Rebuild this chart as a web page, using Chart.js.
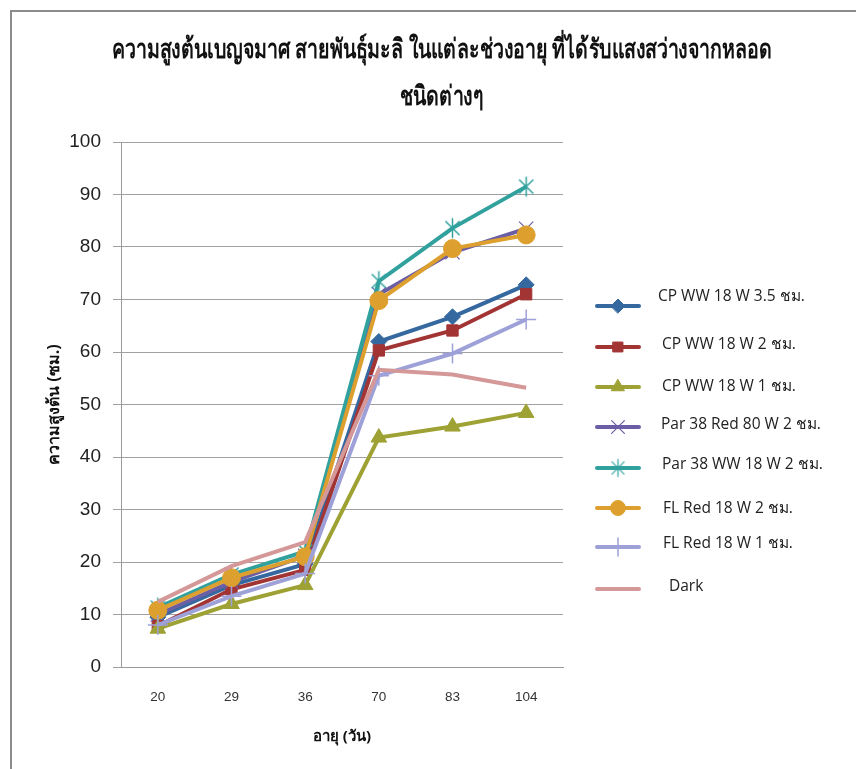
<!DOCTYPE html>
<html>
<head>
<meta charset="utf-8">
<script src="https://cdn.jsdelivr.net/npm/chart.js@4/dist/chart.umd.min.js"></script>
<style>
  html, body { margin: 0; padding: 0; background: #fff; }
  #wrap { position: relative; width: 856px; height: 769px; overflow: hidden; }
  #frame { position: absolute; left: 10px; top: 10px; width: 900px; height: 800px;
           border-top: 2px solid #8c8c8c; border-left: 2px solid #8c8c8c; }
  #c { position: absolute; left: 0; top: 0; }
</style>
</head>
<body>
<div id="wrap">
  <div id="frame"></div>
  <canvas id="c" width="856" height="769"></canvas>
</div>
<script>
// Plant age (days) on the x axis
const ageDays = ['20', '29', '36', '70', '83', '104'];
const yTicks = [0, 10, 20, 30, 40, 50, 60, 70, 80, 90, 100];

// Plant height (cm) for each lamp treatment
const cpWw35h = [9.5, 15.6, 19.6, 62.0, 66.7, 72.8];
const cpWw2h = [7.8, 14.8, 18.5, 60.3, 64.1, 71.0];
const cpWw1h = [7.3, 12.0, 15.6, 43.7, 45.8, 48.4];
const par38Red2h = [10.0, 16.2, 21.2, 71.0, 79.0, 83.5];
const par38Ww2h = [11.3, 17.6, 22.0, 73.5, 83.6, 91.5];
const flRed2h = [10.8, 17.0, 21.0, 69.8, 79.7, 82.3];
const flRed1h = [8.0, 13.5, 17.8, 55.5, 59.7, 66.2];
const darkH = [12.4, 19.2, 23.8, 56.6, 55.7, 53.2];

const seriesNames = [
  'CP WW 18 W 3.5 ชม.',
  'CP WW 18 W 2 ชม.',
  'CP WW 18 W 1 ชม.',
  'Par 38 Red 80 W 2 ชม.',
  'Par 38 WW 18 W 2 ชม.',
  'FL Red 18 W 2 ชม.',
  'FL Red 18 W 1 ชม.',
  'Dark'
];
const seriesValues = [cpWw35h, cpWw2h, cpWw1h, par38Red2h, par38Ww2h, flRed2h, flRed1h, darkH];

const chartTitle = ['ความสูงต้นเบญจมาศ สายพันธุ์มะลิ ในแต่ละช่วงอายุ ที่ได้รับแสงสว่างจากหลอด', 'ชนิดต่างๆ'];

const colors = ['#34689f', '#a33434', '#9ea133', '#6c5ea4', '#31a19e', '#dd9f2e', '#9da1d8', '#d59898'];

// Asterisk marker: an X with a vertical stroke through it
function asterisk(color, r, lw) {
  const s = Math.ceil(r * 2 + lw * 2);
  const cv = document.createElement('canvas');
  cv.width = s; cv.height = s;
  const g = cv.getContext('2d');
  const c = s / 2;
  g.strokeStyle = color;
  g.lineWidth = lw;
  g.beginPath();
  const d = r * Math.SQRT1_2;
  g.moveTo(c - d, c - d); g.lineTo(c + d, c + d);
  g.moveTo(c + d, c - d); g.lineTo(c - d, c + d);
  g.moveTo(c, c - r); g.lineTo(c, c + r);
  g.stroke();
  return cv;
}

const markers = [
  { style: 'rectRot', radius: 8, bw: 1, lr: 7 },
  { style: 'rect', radius: 8, bw: 1, lr: 7 },
  { style: 'triangle', radius: 9, bw: 1, lr: 7.5 },
  { style: 'crossRot', radius: 10, bw: 1.2, lr: 9 },
  { style: asterisk(colors[4], 10, 1.5), radius: 10, bw: 1.5, lr: 9, legendStyle: asterisk(colors[4], 9, 1.2) },
  { style: 'circle', radius: 9, bw: 1, lr: 7.5 },
  { style: 'cross', radius: 10, bw: 1.5, lr: 9 },
  { style: false, radius: 0, bw: 0, lr: 0 }
];

const FONT = "'Open Sans', 'Noto Sans', 'DejaVu Sans', sans-serif";

const datasets = seriesValues.map((vals, i) => ({
  label: seriesNames[i],
  data: vals,
  borderColor: colors[i],
  backgroundColor: colors[i],
  borderWidth: 4,
  pointStyle: markers[i].style,
  pointRadius: markers[i].radius,
  pointHoverRadius: markers[i].radius,
  pointBorderWidth: markers[i].bw,
  pointBackgroundColor: colors[i],
  pointBorderColor: colors[i],
  tension: 0,
  order: seriesValues.length - i
}));

// Two-line heading, set in a narrow bold face (glyphs squeezed to the given width)
const narrowTitle = {
  id: 'narrowTitle',
  afterDraw(chart, args, opts) {
    const ctx = chart.ctx;
    ctx.save();
    ctx.font = opts.font;
    ctx.fillStyle = opts.color;
    ctx.textAlign = 'center';
    ctx.textBaseline = 'middle';
    const squeeze = opts.firstLineWidth / ctx.measureText(opts.text[0]).width;
    opts.text.forEach((line, i) => {
      ctx.save();
      ctx.translate(opts.centerX, opts.lineY[i]);
      ctx.scale(squeeze, 1);
      ctx.fillText(line, 0, 0);
      ctx.restore();
    });
    ctx.restore();
  }
};

// Legend drawn beside the plot: line sample with its marker, then the label
const sideLegend = {
  id: 'sideLegend',
  afterDraw(chart, args, opts) {
    const ctx = chart.ctx;
    ctx.save();
    chart.data.datasets.forEach((ds, i) => {
      const y = opts.lineY[i];
      ctx.strokeStyle = ds.borderColor;
      ctx.lineWidth = 4;
      ctx.lineCap = 'round';
      ctx.beginPath();
      ctx.moveTo(opts.x0, y);
      ctx.lineTo(opts.x1, y);
      ctx.stroke();
      const m = markers[i];
      if (ds.pointStyle) {
        ctx.fillStyle = ds.pointBackgroundColor;
        ctx.strokeStyle = ds.pointBorderColor;
        ctx.lineWidth = ds.pointBorderWidth;
        Chart.helpers.drawPoint(ctx, {
          pointStyle: m.legendStyle || ds.pointStyle,
          radius: m.lr,
          borderWidth: ds.pointBorderWidth,
          rotation: 0
        }, (opts.x0 + opts.x1) / 2, y);
      }
      ctx.fillStyle = '#222';
      ctx.font = opts.font;
      ctx.textAlign = 'left';
      ctx.textBaseline = 'middle';
      ctx.fillText(ds.label, opts.textX[i], opts.textY[i]);
    });
    ctx.restore();
  }
};

new Chart(document.getElementById('c'), {
  type: 'line',
  data: { labels: ageDays, datasets },
  plugins: [narrowTitle, sideLegend],
  options: {
    responsive: false,
    animation: false,
    layout: { padding: { top: 142, left: 26, right: 0, bottom: 18 } },
    plugins: {
      legend: { display: false },
      tooltip: { enabled: false },
      title: { display: false },
      narrowTitle: {
        text: chartTitle,
        font: "bold 27px " + FONT,
        color: '#111',
        centerX: 442,
        lineY: [50, 97],
        firstLineWidth: 660
      },
      sideLegend: {
        x0: 597, x1: 639,
        lineY: [306, 347, 387, 427, 468, 508, 547, 589],
        textY: [297, 345, 387, 425, 465, 509, 544, 587],
        textX: [658, 662, 662, 661, 662, 663, 663, 669],
        font: "15.5px " + FONT
      }
    },
    scales: {
      x: {
        offset: true,
        grid: { display: false, drawTicks: false },
        border: { display: true, color: '#9a9a9a', width: 1 },
        afterFit(scale) { scale.height = 84; },
        ticks: { color: '#333', padding: 22, font: { family: "'Liberation Sans', Arial, sans-serif", size: 13.5 } },
        title: {
          display: true,
          text: 'อายุ (วัน)',
          color: '#111',
          font: { family: FONT, size: 15, weight: 'bold' },
          padding: { top: 22, bottom: 5 }
        }
      },
      y: {
        min: 0,
        max: 100,
        afterBuildTicks(scale) { scale.ticks = yTicks.map(v => ({ value: v })); },
        afterFit(scale) { scale.width = 121 - 26; },
        grid: { color: '#a0a0a0', lineWidth: 1, tickLength: 8, drawTicks: true },
        border: { display: true, color: '#9a9a9a', width: 1 },
        ticks: { color: '#222', padding: 12, font: { family: "'Liberation Sans', Arial, sans-serif", size: 19 } },
        title: {
          display: true,
          text: 'ความสูงต้น (ซม.)',
          color: '#111',
          font: { family: FONT, size: 16, weight: 'bold' },
          padding: { top: 19, bottom: 0 }
        }
      },
      // empty right-hand band that leaves room for the legend
      legendBand: {
        type: 'linear',
        position: 'right',
        display: true,
        grid: { display: false, drawTicks: false },
        border: { display: false },
        ticks: { display: false },
        afterFit(scale) { scale.width = 856 - 563; }
      }
    }
  }
});
</script>
</body>
</html>
